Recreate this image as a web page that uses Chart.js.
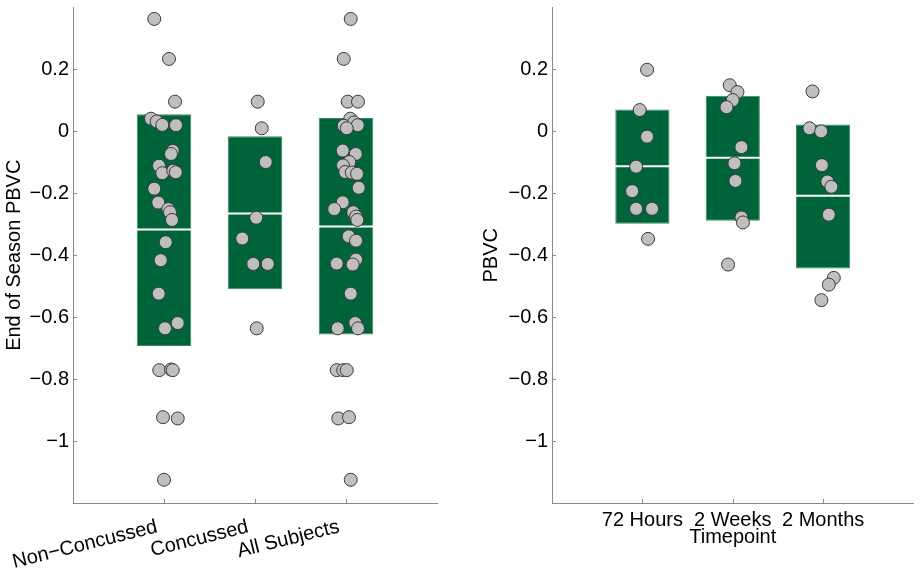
<!DOCTYPE html>
<html>
<head>
<meta charset="utf-8">
<script src="https://cdn.jsdelivr.net/npm/chart.js@4"></script>
<style>
  body { margin: 0; background: #fff; overflow: hidden; }
  #left, #right { position: absolute; top: 0; height: 576px; }
  #left { left: 0; width: 460px; }
  #right { left: 460px; width: 461px; }
</style>
</head>
<body>
<div id="left"><canvas id="leftChart"></canvas></div>
<div id="right"><canvas id="rightChart"></canvas></div>
<script>
// y ticks shared by both panels
const yTicks = [-1, -0.8, -0.6, -0.4, -0.2, 0, 0.2];

// Left panel: end of season PBVC by group
const groupLabels = ['Non\u2212Concussed', 'Concussed', 'All Subjects'];
const groupBoxLow = [-0.693, -0.510, -0.656];
const groupBoxHigh = [0.055, -0.016, 0.043];
const groupMedian = [-0.317, -0.265, -0.307];

const nonConcussedPBVC = [0.363, 0.234, 0.096, 0.041, 0.032, 0.021, 0.020, -0.063, -0.073, -0.111,
  -0.135, -0.127, -0.132, -0.185, -0.230, -0.251, -0.261, -0.286, -0.358, -0.416,
  -0.524, -0.619, -0.636, -0.771, -0.769, -0.771, -0.923, -0.927, -1.125];
const nonConcussedX = [0.893, 1.055, 1.121, 0.857, 0.920, 0.981, 1.132, 1.096, 1.077, 0.945,
  0.981, 1.102, 1.129, 0.893, 0.937, 1.047, 1.066, 1.088, 1.019, 0.964,
  0.942, 1.151, 1.011, 0.948, 1.077, 1.096, 0.989, 1.151, 1.000];

const concussedPBVC = [0.096, 0.010, -0.099, -0.279, -0.346, -0.428, -0.428, -0.636];
const concussedX = [2.030, 2.074, 2.118, 2.014, 1.860, 1.981, 2.140, 2.019];

const allSubjectsPBVC = [0.363, 0.234, 0.096, 0.096, 0.041, 0.018, 0.029, 0.020, 0.010, -0.062,
  -0.073, -0.099, -0.110, -0.131, -0.133, -0.137, -0.182, -0.229, -0.251, -0.261,
  -0.275, -0.286, -0.339, -0.353, -0.414, -0.427, -0.430, -0.524, -0.619, -0.636,
  -0.636, -0.771, -0.771, -0.771, -0.927, -0.923, -1.125];
const allSubjectsX = [3.052, 2.975, 3.019, 3.132, 3.047, 2.975, 3.088, 3.129, 3.008, 2.964,
  3.107, 3.036, 2.967, 2.992, 3.063, 3.121, 3.140, 2.964, 2.871, 3.080,
  3.110, 3.124, 3.030, 3.110, 3.110, 2.898, 3.074, 3.052, 3.102, 2.909,
  3.132, 2.898, 2.970, 3.008, 2.915, 3.033, 3.052];

// Right panel: PBVC by timepoint
const timeLabels = ['72 Hours', '2 Weeks', '2 Months'];
const timeBoxLow = [-0.298, -0.289, -0.443];
const timeBoxHigh = [0.071, 0.115, 0.022];
const timeMedian = [-0.113, -0.085, -0.208];

const hours72PBVC = [0.199, 0.069, -0.017, -0.114, -0.193, -0.250, -0.250, -0.347];
const hours72X = [1.052, 0.970, 1.052, 0.931, 0.887, 0.931, 1.107, 1.063];

const weeks2PBVC = [0.149, 0.127, 0.101, 0.078, -0.051, -0.103, -0.160, -0.278, -0.294, -0.430];
const weeks2X = [1.967, 2.052, 2.000, 1.931, 2.096, 2.019, 2.030, 2.096, 2.113, 1.948];

const months2PBVC = [0.129, 0.010, 0.000, -0.109, -0.162, -0.179, -0.269, -0.473, -0.495, -0.545];
const months2X = [2.882, 2.849, 2.978, 2.986, 3.047, 3.091, 3.063, 3.118, 3.063, 2.981];

const barFill = '#00643a';
const barEdge = '#3d8a60';
const pointFill = '#bfbfbf';
const pointEdge = '#3a3a3a';
const axisColor = '#8a8a8a';

Chart.defaults.font.family = '"Liberation Sans", Arial, Helvetica, sans-serif';
Chart.defaults.font.size = 20;
Chart.defaults.color = '#000';

function toPoints(xs, ys) {
  return ys.map((v, i) => ({ x: xs[i], y: v }));
}

function fmtTick(v) {
  const r = Math.round(v * 10) / 10;
  if (r === 0) return '0';
  return (r < 0 ? '\u2212' : '') + Math.abs(r);
}

// white median line across each bar, drawn before the points
const medianLines = {
  id: 'medianLines',
  afterDatasetDraw(chart, args) {
    const ds = chart.data.datasets[args.index];
    if (!ds.medians) return;
    const { ctx, scales: { y } } = chart;
    ctx.save();
    ctx.strokeStyle = '#fff';
    ctx.lineWidth = 2;
    args.meta.data.forEach((bar, i) => {
      const py = y.getPixelForValue(ds.medians[i]);
      ctx.beginPath();
      ctx.moveTo(bar.x - bar.width / 2, py);
      ctx.lineTo(bar.x + bar.width / 2, py);
      ctx.stroke();
    });
    ctx.restore();
  }
};

// MATLAB style tick marks pointing into the plot
const inwardTicks = {
  id: 'inwardTicks',
  afterDatasetsDraw(chart) {
    const { ctx, chartArea, scales: { x, y } } = chart;
    ctx.save();
    ctx.strokeStyle = axisColor;
    ctx.lineWidth = 1;
    ctx.beginPath();
    x.ticks.forEach((t, i) => {
      const px = Math.round(x.getPixelForTick(i)) + 0.5;
      ctx.moveTo(px, chartArea.bottom);
      ctx.lineTo(px, chartArea.bottom - 4);
    });
    y.ticks.forEach((t, i) => {
      const py = Math.round(y.getPixelForTick(i)) + 0.5;
      ctx.moveTo(chartArea.left, py);
      ctx.lineTo(chartArea.left + 4, py);
    });
    ctx.stroke();
    ctx.restore();
  }
};

function makePanel(id, cfg) {
  return new Chart(document.getElementById(id), {
    type: 'bar',
    data: {
      datasets: [
        {
          type: 'scatter',
          data: cfg.points,
          order: 1,
          pointRadius: 6.5,
          pointBackgroundColor: pointFill,
          pointBorderColor: pointEdge,
          pointBorderWidth: 1,
          clip: false
        },
        {
          data: cfg.labels.map((l, i) => ({ x: i + 1, y: [cfg.low[i], cfg.high[i]] })),
          medians: cfg.medians,
          order: 2,
          backgroundColor: barFill,
          borderColor: barEdge,
          borderWidth: 1,
          borderSkipped: false,
          categoryPercentage: 0.6,
          barPercentage: 1
        }
      ]
    },
    options: {
      responsive: true,
      maintainAspectRatio: false,
      animation: false,
      layout: { padding: { left: 0, top: 5, right: cfg.padRight, bottom: 0 } },
      plugins: { legend: { display: false }, tooltip: { enabled: false } },
      scales: {
        x: {
          type: 'linear',
          min: 0,
          max: 4,
          offset: false,
          grid: { display: false, drawTicks: false },
          border: { display: true, color: axisColor, width: 1 },
          afterBuildTicks: s => { s.ticks = cfg.labels.map((l, i) => ({ value: i + 1 })); },
          afterFit: s => { s.height = 73; s.paddingLeft = 0; s.paddingRight = 0; },
          ticks: {
            autoSkip: false,
            minRotation: cfg.rotation,
            maxRotation: cfg.rotation,
            padding: cfg.xTickPad,
            labelOffset: cfg.xLabelOffset,
            callback: v => cfg.labels[Math.round(v) - 1]
          },
          title: {
            display: !!cfg.xTitle,
            text: cfg.xTitle || '',
            padding: { top: 0, bottom: 27 }
          }
        },
        y: {
          type: 'linear',
          min: -1.2,
          max: 0.4,
          grid: { display: false, drawTicks: false },
          border: { display: true, color: axisColor, width: 1 },
          afterBuildTicks: s => { s.ticks = yTicks.map(v => ({ value: v })); },
          afterFit: s => { s.width = cfg.yWidth; s.paddingTop = 0; s.paddingBottom = 0; },
          ticks: { padding: 4, callback: v => fmtTick(v) },
          title: {
            display: true,
            text: cfg.yTitle,
            padding: { top: cfg.yTitlePad, bottom: 0 }
          }
        }
      }
    },
    plugins: [medianLines, inwardTicks]
  });
}

makePanel('leftChart', {
  labels: groupLabels,
  low: groupBoxLow,
  high: groupBoxHigh,
  medians: groupMedian,
  points: [].concat(
    toPoints(nonConcussedX, nonConcussedPBVC),
    toPoints(concussedX, concussedPBVC),
    toPoints(allSubjectsX, allSubjectsPBVC)
  ),
  rotation: 14,
  xTickPad: 12,
  xLabelOffset: -7,
  yTitle: 'End of Season PBVC',
  yTitlePad: 2,
  yWidth: 73,
  padRight: 23
});

makePanel('rightChart', {
  labels: timeLabels,
  low: timeBoxLow,
  high: timeBoxHigh,
  medians: timeMedian,
  points: [].concat(
    toPoints(hours72X, hours72PBVC),
    toPoints(weeks2X, weeks2PBVC),
    toPoints(months2X, months2PBVC)
  ),
  rotation: 0,
  xTickPad: 5,
  xLabelOffset: 0,
  xTitle: 'Timepoint',
  yTitle: 'PBVC',
  yTitlePad: 19,
  yWidth: 92,
  padRight: 5
});
</script>
</body>
</html>
